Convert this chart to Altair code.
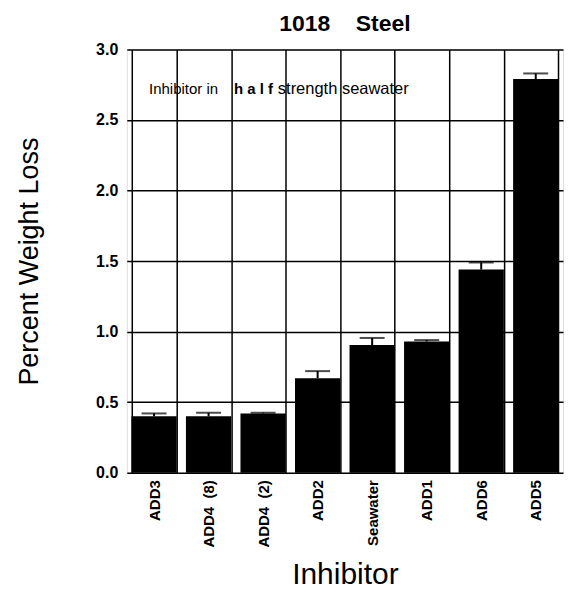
import altair as alt
import pandas as pd

categories = ["ADD3", "ADD4\u00a0\u00a0(8)", "ADD4\u00a0\u00a0(2)", "ADD2", "Seawater", "ADD1", "ADD6", "ADD5"]
weight_loss = [0.40, 0.40, 0.42, 0.67, 0.905, 0.93, 1.44, 2.79]
error_up = [0.02, 0.025, 0.005, 0.05, 0.05, 0.01, 0.05, 0.04]

df = pd.DataFrame({
    "Inhibitor": categories,
    "Loss": weight_loss,
    "Upper": [v + e for v, e in zip(weight_loss, error_up)],
})

FONT = "Liberation Sans"

x = alt.X("Inhibitor:N", sort=categories,
          scale=alt.Scale(paddingInner=0.17, paddingOuter=0.085),
          axis=alt.Axis(title="Inhibitor", labelAngle=-90, labelFontSize=15,
                        labelFontWeight="bold", labelFont=FONT, labelColor="black",
                        labelPadding=7, ticks=False, domain=False,
                        tickBand="extent", grid=True, gridColor="black",
                        gridWidth=1.5, gridOpacity=1,
                        titleFontSize=30, titleFont=FONT, titleFontWeight="normal",
                        titleColor="black", titlePadding=12))
y_scale = alt.Scale(domain=[0, 3], nice=False)
y_axis = alt.Axis(title="Percent Weight Loss", values=[0, 0.5, 1.0, 1.5, 2.0, 2.5, 3.0],
                  format=".1f", labelFontSize=16, labelFontWeight="bold", labelFont=FONT,
                  labelColor="black", labelPadding=9, ticks=False, domain=False,
                  grid=True, gridColor="black", gridWidth=1.5, gridOpacity=1,
                  titleFontSize=27, titleFont=FONT, titleFontWeight="normal",
                  titleColor="black", titlePadding=52)

base = alt.Chart(df)
bars = base.mark_bar(color="black").encode(x=x, y=alt.Y("Loss:Q", scale=y_scale, axis=y_axis))
rules = base.mark_rule(color="black", strokeWidth=2).encode(
    x=alt.X("Inhibitor:N", sort=categories), y="Loss:Q", y2="Upper:Q")
caps = base.mark_tick(color="black", size=25, thickness=2).encode(
    x=alt.X("Inhibitor:N", sort=categories), y="Upper:Q")

note_y = 2.72
t1 = alt.Chart(pd.DataFrame({"t": ["Inhibitor in"]})).mark_text(
    align="left", baseline="middle", font=FONT, fontSize=15, color="black", dx=-5
).encode(x=alt.datum(categories[0]), y=alt.datum(note_y), text="t:N")
t2 = alt.Chart(pd.DataFrame({"t": ["h a l f"]})).mark_text(
    align="left", baseline="middle", font=FONT, fontSize=15, fontWeight="bold", color="black", dx=80
).encode(x=alt.datum(categories[0]), y=alt.datum(note_y), text="t:N")
t3 = alt.Chart(pd.DataFrame({"t": ["strength seawater"]})).mark_text(
    align="left", baseline="middle", font=FONT, fontSize=16.5, color="black", dx=124
).encode(x=alt.datum(categories[0]), y=alt.datum(note_y), text="t:N")

chart = alt.layer(bars, rules, caps, t1, t2, t3).properties(
    width=437, height=424,
    title=alt.TitleParams("1018\u00a0\u00a0\u00a0\u00a0Steel", font=FONT, fontSize=23,
                          fontWeight="bold", color="black", anchor="middle", offset=5),
    autosize=alt.AutoSizeParams(type="none"),
    padding={"left": 119, "top": 41, "right": 2, "bottom": 125},
).configure_view(stroke="black", strokeWidth=2).configure(background="white")

chart.save("out.html", embed_options={"renderer": "svg", "actions": False})
